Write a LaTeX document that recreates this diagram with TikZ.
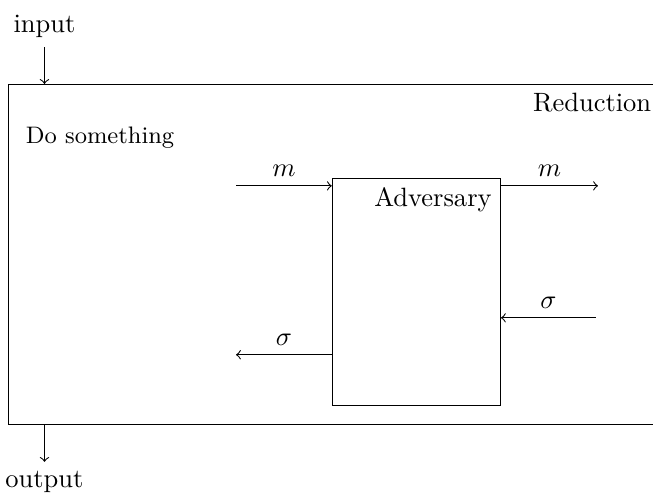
\documentclass[tikz,border=0pt]{standalone}
\usepackage{tikz}

\begin{document}
\begin{tikzpicture}[>=to]
  \tikzstyle{box}=[rectangle,draw=black,inner sep=0pt]
  \useasboundingbox (0,0) rectangle (8.66,6.565);

  % boxes
  \node[box, anchor=south west, minimum width=8.64cm, minimum height=4.51cm] (red) at (0.106,0.928) {};
  \node[anchor=north east] at (red.north east) {Reduction};
  \node[anchor=north west, font=\small] at (0.22,5.0) {Do something};

  \node[box, anchor=south west, minimum width=2.23cm, minimum height=3.01cm] (adv) at (4.40,1.18) {};
  \node[anchor=north east] at (adv.north east) {Adversary};

  % input and output
  \node[anchor=south] (in) at (0.59,5.94) {input};
  \node[anchor=north] (out) at (0.59,0.44) {output};
  \draw[->] (in) -- (in |- red.north);
  \draw[->] (red.south -| out.north) -- (out);

  % messages
  \coordinate (min) at (3.13,4.10);
  \coordinate (mout) at (7.93,4.10);
  \coordinate (sin) at (7.90,2.35);
  \coordinate (sout) at (3.13,1.86);

  \draw[->] (min) -- (min -| adv.west) node[midway,above] {$m$};
  \draw[->] (mout -| adv.east) -- (mout) node[midway,above] {$m$};
  \draw[->] (sin) -- (sin -| adv.east) node[midway,above] {$\sigma$};
  \draw[->] (sout -| adv.west) -- (sout) node[midway,above] {$\sigma$};

\end{tikzpicture}
\end{document}
